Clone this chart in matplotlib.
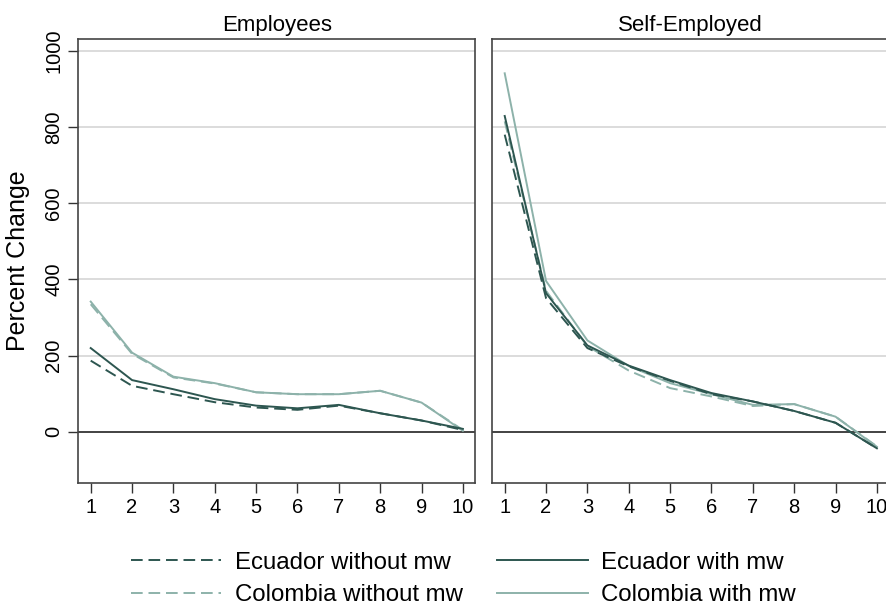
import matplotlib
matplotlib.use("Agg")
import matplotlib.pyplot as plt

plt.rcParams['font.family'] = ['Liberation Sans', 'DejaVu Sans']

deciles = [1, 2, 3, 4, 5, 6, 7, 8, 9, 10]

# Employees
emp_ec_without = [187, 121, 99, 78, 64, 58, 69, 49, 30, 5]
emp_ec_with = [220, 136, 112, 86, 69, 62, 71, 49, 30, 8]
emp_co_without = [335, 205, 143, 127, 104, 99, 99, 108, 77, 5]
emp_co_with = [342, 208, 145, 128, 104, 99, 99, 108, 77, 3]

# Self-Employed
self_ec_without = [780, 351, 220, 172, 134, 99, 80, 55, 24, -43]
self_ec_with = [829, 364, 227, 174, 136, 102, 80, 55, 24, -43]
self_co_without = [815, 370, 225, 161, 115, 93, 68, 73, 40, -38]
self_co_with = [941, 396, 240, 173, 128, 99, 71, 73, 40, -39]

panels = ["Employees", "Self-Employed"]
yticks = [0, 200, 400, 600, 800, 1000]

dark = '#2d5650'
light = '#8db2aa'

fig = plt.figure(figsize=(8.86, 6.07), dpi=100)
W, H = 886, 607
ax1 = fig.add_axes([78.3 / W, 1 - 483 / H, 397 / W, 444 / H])
ax2 = fig.add_axes([492.3 / W, 1 - 483 / H, 397 / W, 444 / H])

data = [
    (emp_ec_without, emp_co_without, emp_ec_with, emp_co_with),
    (self_ec_without, self_co_without, self_ec_with, self_co_with),
]

handles = []
for i, (ax, title, series) in enumerate(zip([ax1, ax2], panels, data)):
    ec_wo, co_wo, ec_w, co_w = series
    for y in yticks[1:]:
        ax.axhline(y, color='#d9d9d9', lw=1.3, zorder=0)
    ax.axhline(0, color='#222222', lw=1.2, zorder=1)
    h1, = ax.plot(deciles, co_w, color=light, lw=1.4, label='Colombia with mw', zorder=2)
    h2, = ax.plot(deciles, co_wo, color=light, lw=1.4, ls=(0, (6, 3)),
                  label='Colombia without mw', zorder=2)
    h3, = ax.plot(deciles, ec_w, color=dark, lw=1.4, label='Ecuador with mw', zorder=3)
    h4, = ax.plot(deciles, ec_wo, color=dark, lw=1.4, ls=(0, (6, 3)),
                  label='Ecuador without mw', zorder=3)
    if i == 0:
        handles = [h4, h2, h3, h1]
    ax.set_xlim(0.7, 10.3)
    ax.set_ylim(-134, 1031)
    ax.set_xticks(deciles)
    ax.set_yticks(yticks)
    ax.tick_params(axis='both', labelsize=14.5, length=7, width=1, color='#333333',
                   pad=4)
    ax.set_title(title, fontsize=16, pad=6)
    for s in ax.spines.values():
        s.set_color('#444444')
        s.set_linewidth(1.2)
    if i == 0:
        for lab in ax.get_yticklabels():
            lab.set_rotation(90)
            lab.set_va('center')
        ax.set_ylabel('Percent Change', fontsize=18, labelpad=10)
    else:
        ax.tick_params(axis='y', left=False, labelleft=False)

fig.legend(handles=handles, labels=[h.get_label() for h in handles], ncol=2,
           loc='center', bbox_to_anchor=(0.523, 1 - 579 / H), frameon=False,
           fontsize=17.3, handlelength=3.75, handletextpad=0.58, columnspacing=1.45,
           labelspacing=0.45)

fig.savefig('out.png', dpi=100)
